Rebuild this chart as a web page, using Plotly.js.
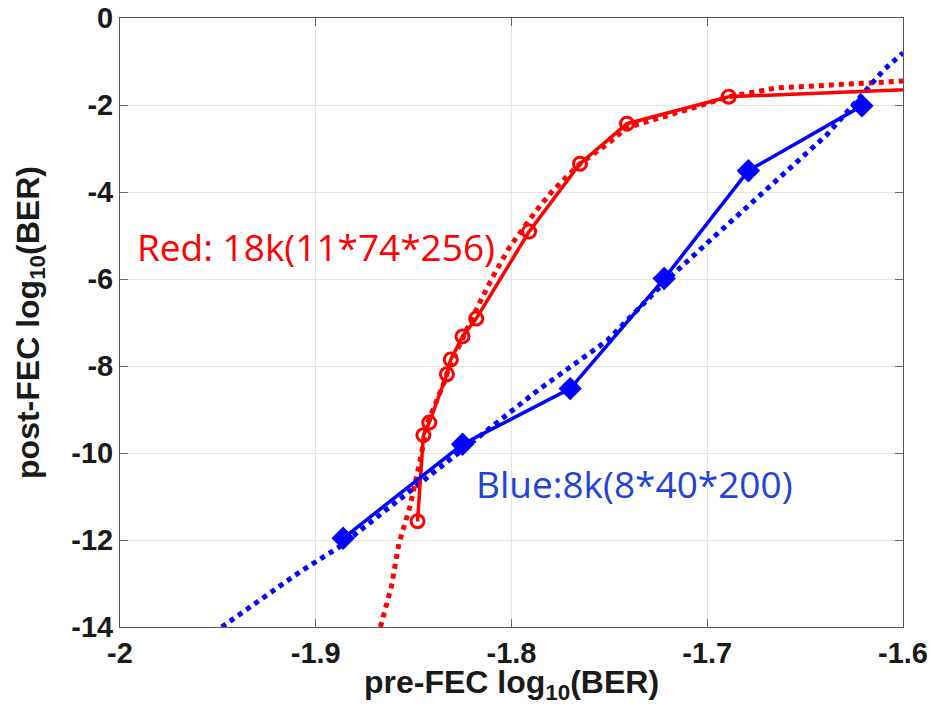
<!DOCTYPE html>
<html>
<head>
<meta charset="utf-8">
<script src="https://cdn.plot.ly/plotly-3.0.1.min.js"></script>
<style>html,body{margin:0;padding:0;background:#fff;}#chart{width:934px;height:705px;}</style>
</head>
<body>
<div id="chart"></div>
<script>
// Measured points (red: 18k code, blue: 8k code)
const redX = [-1.848, -1.845, -1.842, -1.833, -1.831, -1.825, -1.818, -1.791, -1.765, -1.741, -1.689, -1.55];
const redY = [-11.57, -9.59, -9.30, -8.19, -7.85, -7.32, -6.91, -4.91, -3.35, -2.43, -1.81, -1.56];
const blueX = [-1.886, -1.825, -1.770, -1.722, -1.679, -1.621];
const blueY = [-11.96, -9.80, -8.52, -5.99, -3.51, -2.02];
// Fitted (dotted) curves
const redFitX = [-1.867, -1.8614, -1.8575, -1.852, -1.847, -1.843, -1.834, -1.832, -1.817, -1.8097, -1.801, -1.7874, -1.779, -1.765, -1.750, -1.741, -1.717, -1.689, -1.665, -1.6];
const redFitY = [-14.0, -13.08, -12.08, -11.25, -10.24, -9.32, -8.33, -8.03, -6.61, -5.96, -5.27, -4.43, -3.97, -3.35, -2.86, -2.52, -2.20, -1.81, -1.61, -1.45];
const blueFitX = [-1.948, -1.925, -1.908, -1.888, -1.7975, -1.786, -1.751, -1.721, -1.6995, -1.6754, -1.653, -1.639, -1.6237, -1.61, -1.6];
const blueFitY = [-14.0, -13.27, -12.73, -12.16, -8.95, -8.54, -7.41, -6.04, -5.15, -4.16, -3.23, -2.69, -1.91, -1.2, -0.8];
// Ticks
const xTickVals = [-2, -1.9, -1.8, -1.7, -1.6];
const xTickText = ["-2", "-1.9", "-1.8", "-1.7", "-1.6"];
const yTickVals = [0, -2, -4, -6, -8, -10, -12, -14];
const yTickText = ["0", "-2", "-4", "-6", "-8", "-10", "-12", "-14"];
const redLabel = "Red: 18k(11*74*256)";
const blueLabel = "Blue:8k(8*40*200)";

const traces = [
  {x: redFitX, y: redFitY, mode: 'lines', line: {color: '#ff0000', width: 5, dash: 'dot'}, hoverinfo: 'skip'},
  {x: blueFitX, y: blueFitY, mode: 'lines', line: {color: '#0000ff', width: 5, dash: 'dot'}, hoverinfo: 'skip'},
  {x: redX, y: redY, mode: 'lines+markers', line: {color: '#ff0000', width: 3.5},
   marker: {symbol: 'circle-open', size: 13, color: '#ff0000', line: {width: 3, color: '#ff0000'}}},
  {x: blueX, y: blueY, mode: 'lines+markers', line: {color: '#0000ff', width: 3.5},
   marker: {symbol: 'diamond', size: 18, color: '#0000ff'}}
];

const axisCommon = {
  showline: true, linecolor: '#555', linewidth: 1, mirror: 'ticks',
  ticks: 'inside', ticklen: 8, tickcolor: '#666', tickwidth: 1,
  showgrid: true, gridcolor: '#e4e4e4', gridwidth: 1, zeroline: false,
  tickfont: {family: 'Liberation Sans, Arial, sans-serif', size: 29, color: '#1a1a1a', weight: 'bold'}
};

const layout = {
  width: 934, height: 705,
  margin: {l: 120, r: 31, t: 18, b: 78},
  paper_bgcolor: '#fff', plot_bgcolor: '#fff',
  showlegend: false,
  xaxis: Object.assign({}, axisCommon, {
    range: [-2, -1.6], tickmode: 'array', tickvals: xTickVals, ticktext: xTickText,
    title: {text: '<b>pre-FEC log<sub>10</sub>(BER)</b>', font: {family: 'Liberation Sans, Arial, sans-serif', size: 32, color: '#1a1a1a'}, standoff: 3}
  }),
  yaxis: Object.assign({}, axisCommon, {
    range: [-14, 0], tickmode: 'array', tickvals: yTickVals, ticktext: yTickText,
    title: {text: '<b>post-FEC log<sub>10</sub>(BER)</b>', font: {family: 'Liberation Sans, Arial, sans-serif', size: 32, color: '#1a1a1a'}, standoff: 22}
  }),
  annotations: [
    {xref: 'x', yref: 'y', x: -1.9, y: -5.26, text: redLabel, showarrow: false,
     font: {family: 'Open Sans, Lato, sans-serif', size: 37, color: '#ff0000'}},
    {xref: 'x', yref: 'y', x: -1.737, y: -10.7, text: blueLabel, showarrow: false,
     font: {family: 'Open Sans, Lato, sans-serif', size: 37, color: '#2343d8'}}
  ]
};

Plotly.newPlot('chart', traces, layout, {displayModeBar: false, staticPlot: true});
</script>
</body>
</html>
